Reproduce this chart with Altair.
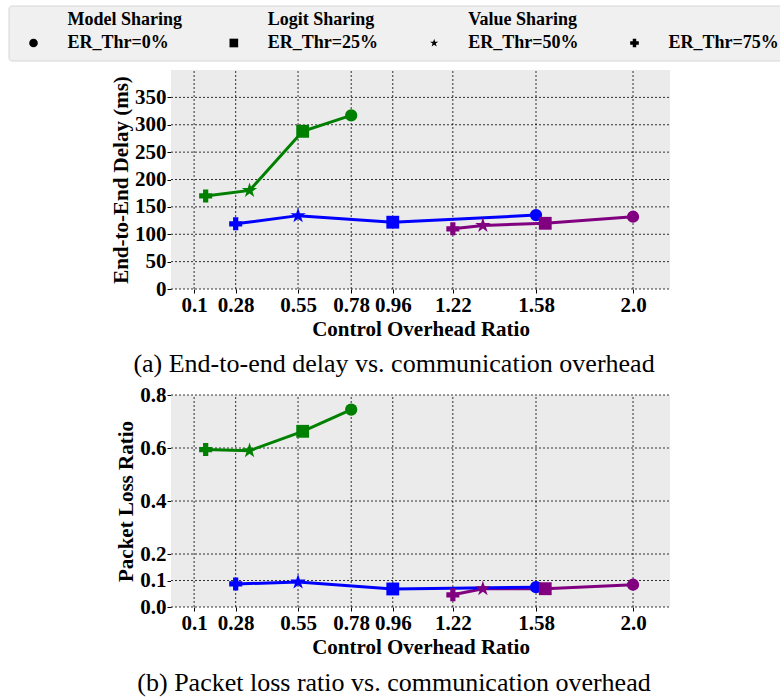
import altair as alt
import pandas as pd

# Series and threshold categories
series = ["Model Sharing", "Logit Sharing", "Value Sharing"]
series_colors = ["#800080", "#0000ff", "#008000"]
thresholds = ["ER_Thr=0%", "ER_Thr=25%", "ER_Thr=50%", "ER_Thr=75%"]

# Five-pointed star as a custom symbol path (unit box from -1 to 1)
STAR = (
    "M0,-1L0.2245,-0.309L0.9511,-0.309L0.3633,0.118L0.5878,0.809L0,0.382"
    "L-0.5878,0.809L-0.3633,0.118L-0.9511,-0.309L-0.2245,-0.309Z"
)
threshold_shapes = ["circle", "square", STAR, "cross"]
threshold_sizes = [150, 165, 260, 170]
legend_shape_sizes = [75, 75, 110, 75]

# Control overhead ratio per threshold (0%, 25%, 50%, 75%)
model_overhead = [2.0, 1.62, 1.35, 1.22]
logit_overhead = [1.58, 0.96, 0.55, 0.28]
value_overhead = [0.78, 0.57, 0.34, 0.15]

# End-to-end delay (ms)
model_delay = [132, 120, 116, 110]
logit_delay = [135, 122, 134, 119]
value_delay = [317, 288, 180, 170]

# Packet loss ratio
model_loss = [0.084, 0.069, 0.069, 0.046]
logit_loss = [0.075, 0.068, 0.094, 0.087]
value_loss = [0.745, 0.663, 0.590, 0.594]

x_ticks = [0.1, 0.28, 0.55, 0.78, 0.96, 1.22, 1.58, 2.0]
delay_ticks = [0, 50, 100, 150, 200, 250, 300, 350]
loss_ticks = [0.0, 0.1, 0.2, 0.4, 0.6, 0.8]

captions = [
    "(a) End-to-end delay vs. communication overhead",
    "(b) Packet loss ratio vs. communication overhead",
]

rows = []
for name, ov, dl, ls in [
    (series[0], model_overhead, model_delay, model_loss),
    (series[1], logit_overhead, logit_delay, logit_loss),
    (series[2], value_overhead, value_delay, value_loss),
]:
    for thr, o, d, l in zip(thresholds, ov, dl, ls):
        rows.append({"series": name, "threshold": thr, "overhead": o, "delay": d, "loss": l})
df = pd.DataFrame(rows)

SERIF = "Liberation Serif"
PLOT_W = 499          # shared plot width
TOTAL_H = 537         # from the top of panel (a) to the bottom of panel (b)
X_DOMAIN = [0, 2.16]
GRID = dict(color="black", strokeWidth=0.8, strokeDash=[2, 2])

color_enc = alt.Color("series:N", scale=alt.Scale(domain=series, range=series_colors), legend=None)


def panel(field, ytitle, yticks, ydomain, yrange, yfmt, xoffset):
    xs = alt.Scale(domain=X_DOMAIN, nice=False, zero=False)
    ys = alt.Scale(domain=ydomain, range=yrange, nice=False, zero=False)
    # every layer of a panel carries the same axis definitions so they merge into one
    x_axis = alt.Axis(
        values=x_ticks,
        format=".2~f",
        labelExpr="datum.value == 2 ? '2.0' : datum.label",
        title="Control Overhead Ratio",
        orient="bottom",
        offset=xoffset,
        grid=False,
    )
    y_axis = alt.Axis(values=yticks, format=yfmt, title=ytitle, orient="left", grid=False)
    x = alt.X("overhead:Q", scale=xs, axis=x_axis)
    y = alt.Y(f"{field}:Q", scale=ys, axis=y_axis)

    background = alt.Chart(pd.DataFrame({"k": [0]})).mark_rect(fill="#ebebeb").encode(
        x=alt.XDatum(X_DOMAIN[0], scale=xs, axis=x_axis),
        x2=alt.X2Datum(X_DOMAIN[1]),
        y=alt.YDatum(ydomain[0], scale=ys, axis=y_axis),
        y2=alt.Y2Datum(ydomain[1]),
    )
    vgrid = alt.Chart(pd.DataFrame({"tick": x_ticks})).mark_rule(**GRID).encode(
        x=alt.X("tick:Q", scale=xs, axis=x_axis),
        y=alt.YDatum(ydomain[0], scale=ys, axis=y_axis),
        y2=alt.Y2Datum(ydomain[1]),
    )
    hgrid = alt.Chart(pd.DataFrame({"tick": yticks})).mark_rule(**GRID).encode(
        y=alt.Y("tick:Q", scale=ys, axis=y_axis),
        x=alt.XDatum(X_DOMAIN[0], scale=xs, axis=x_axis),
        x2=alt.X2Datum(X_DOMAIN[1]),
    )

    base = alt.Chart(df)
    line = base.mark_line(strokeWidth=3).encode(x=x, y=y, color=color_enc)
    points = []
    for thr, shp, sz in zip(thresholds, threshold_shapes, threshold_sizes):
        points.append(
            base.transform_filter(alt.datum.threshold == thr)
            .mark_point(shape=shp, size=sz, filled=True, opacity=1)
            .encode(x=x, y=y, color=color_enc)
        )
    return alt.layer(background, vgrid, hgrid, line, *points)


delay_panel = panel(
    "delay", "End-to-End Delay (ms)", delay_ticks, [0, 400], [219, 0], "d", 219 - TOTAL_H
)
loss_panel = panel(
    "loss", "Packet Loss Ratio", loss_ticks, [0, 0.8], [TOTAL_H, 325], ".1f", 0
)

# Legend block above the plots: series lines on the first row, threshold markers on the second
COL_RANGE = [-103.5, 497.5]
PX_PER_COL = (COL_RANGE[1] - COL_RANGE[0]) / 3
legend_series = pd.DataFrame({"label": series, "col": [0, 1, 2]})
legend_thr = pd.DataFrame({"label": thresholds, "col": [0, 1, 2, 3]})
col_scale = alt.Scale(domain=[0, 3], range=COL_RANGE)
col_x = alt.X("col:Q", scale=col_scale, axis=None)
sym_x = alt.X("sym:Q", scale=col_scale, axis=None)
ROW1, ROW2 = -50, -27

box = alt.Chart(pd.DataFrame({"k": [0]})).mark_rect(
    fill="#f0f0f0", stroke="#d6d6d6", strokeWidth=1, cornerRadius=3
).encode(x=alt.value(-162), x2=alt.value(640), y=alt.value(-64), y2=alt.value(-9))

# short line segments from 53 px to 14 px left of each series label
series_lines = (
    alt.Chart(legend_series)
    .transform_calculate(
        seg_start=f"datum.col - {53 / PX_PER_COL}",
        seg_end=f"datum.col - {14 / PX_PER_COL}",
    )
    .mark_rule(strokeWidth=3)
    .encode(
        x=alt.X("seg_start:Q", scale=col_scale, axis=None),
        x2="seg_end:Q",
        y=alt.value(ROW1),
        color=color_enc,
    )
)

series_text = alt.Chart(legend_series).mark_text(
    align="left", baseline="middle", font=SERIF, fontWeight="bold", fontSize=18, color="black"
).encode(x=col_x, y=alt.value(ROW1), text="label:N")

thr_marks = (
    alt.Chart(legend_thr)
    .transform_calculate(sym=f"datum.col - {34 / PX_PER_COL}")
    .mark_point(filled=True, opacity=1, color="black")
    .encode(
        x=sym_x,
        y=alt.value(ROW2),
        shape=alt.Shape("label:N", scale=alt.Scale(domain=thresholds, range=threshold_shapes), legend=None),
        size=alt.Size("label:N", scale=alt.Scale(domain=thresholds, range=legend_shape_sizes), legend=None),
    )
)

thr_text = alt.Chart(legend_thr).mark_text(
    align="left", baseline="middle", font=SERIF, fontWeight="bold", fontSize=18, color="black"
).encode(x=col_x, y=alt.value(ROW2), text="label:N")

# Sub-figure captions
caption_style = dict(font=SERIF, fontSize=26, color="black", align="center", baseline="middle")
caption_a = alt.Chart(pd.DataFrame({"caption": [captions[0]]})).mark_text(**caption_style).encode(
    text="caption:N", x=alt.value(223), y=alt.value(294)
)
caption_b = alt.Chart(pd.DataFrame({"caption": [captions[1]]})).mark_text(**caption_style).encode(
    text="caption:N", x=alt.value(223), y=alt.value(613)
)

decor = alt.layer(box, series_lines, series_text, thr_marks, thr_text, caption_a, caption_b)

chart = (
    alt.layer(decor, delay_panel, loss_panel)
    .resolve_scale(x="independent", y="independent")
    .resolve_axis(x="independent", y="independent")
    .properties(
        width=PLOT_W,
        height=TOTAL_H,
        autosize=alt.AutoSizeParams(type="none"),
        padding={"left": 171, "top": 70, "right": 110, "bottom": 90},
        background="white",
    )
    .configure_view(fill="white", stroke="transparent")
    .configure_axis(
        labelFont=SERIF,
        labelFontSize=21,
        labelFontWeight="bold",
        labelColor="black",
        titleFont=SERIF,
        titleFontSize=21,
        titleFontWeight="bold",
        titleColor="black",
        domain=False,
        tickColor="black",
        tickSize=4,
        labelPadding=1,
        titlePadding=3,
    )
)

chart.save("out.html", embed_options={"renderer": "svg", "actions": False})
